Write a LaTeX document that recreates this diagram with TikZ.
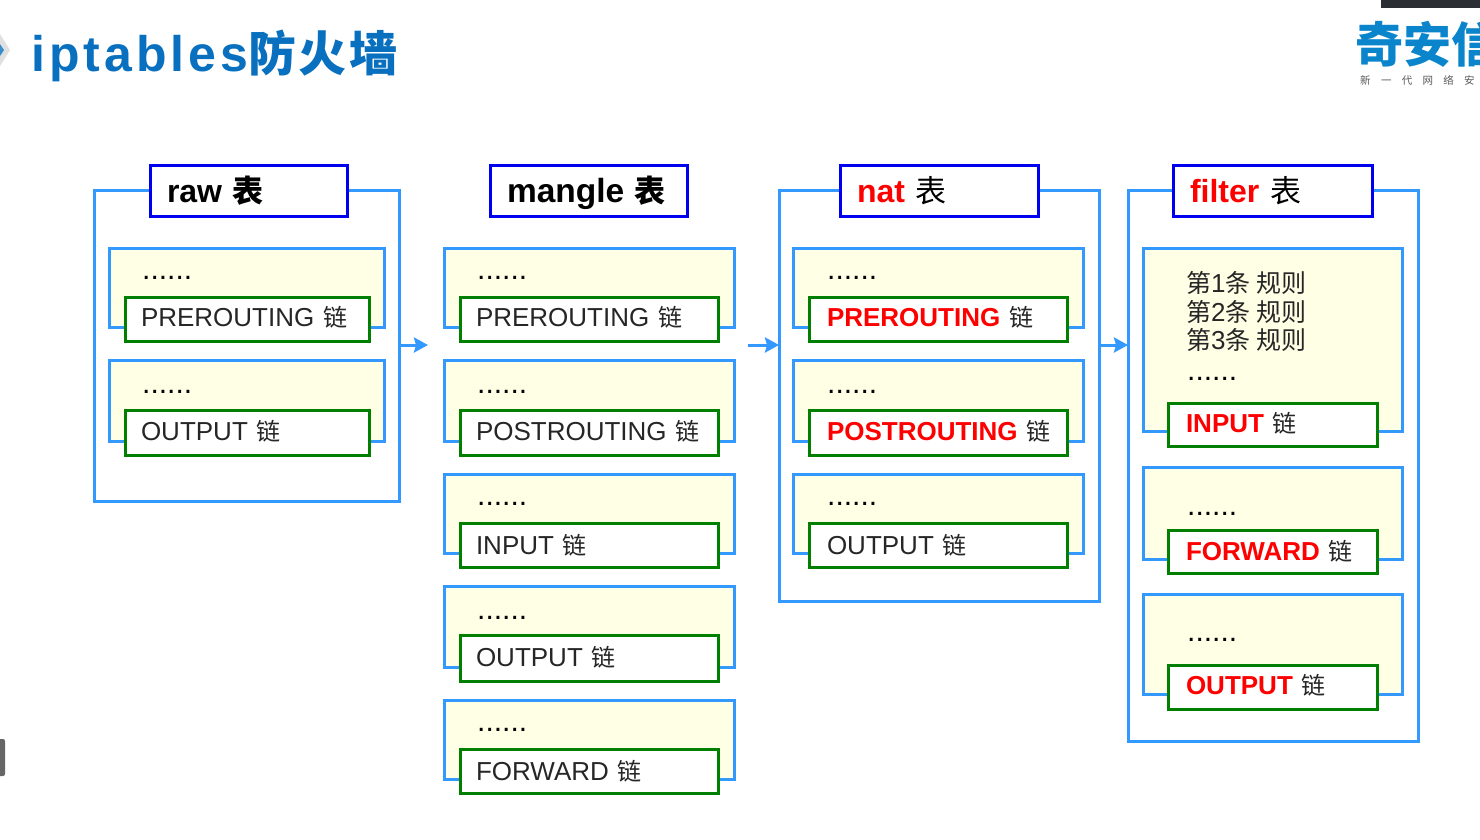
\documentclass[tikz,border=0pt]{standalone}
\usepackage{fontspec}
\usetikzlibrary{arrows.meta}
\setmainfont{Liberation Sans}
\newfontfamily\cjk{Noto Sans CJK SC}
\newfontfamily\spaced[LetterSpace=8]{Liberation Sans}
\newfontfamily\cjkspaced[LetterSpace=6]{Noto Sans CJK SC}
\definecolor{frameblue}{HTML}{3399FF}
\definecolor{paneyellow}{HTML}{FFFFE6}
\definecolor{chaingreen}{HTML}{007F00}
\definecolor{headblue}{HTML}{0000F0}
\definecolor{brandblue}{HTML}{0870BE}
\definecolor{logoblue}{HTML}{0A85CC}
\definecolor{alertred}{HTML}{FF0000}
\definecolor{barblack}{HTML}{2B2E32}
\newcommand{\zh}[1]{{\cjk\fontsize{24}{28}\selectfont #1}}
\newcommand{\zhr}[1]{{\cjk\fontsize{25}{28}\selectfont #1}}
\newcommand{\zhb}[1]{{\cjk\fontsize{31}{34}\selectfont #1}}
\newcommand{\zhm}[1]{{\cjk\mdseries\fontsize{31}{34}\selectfont #1}}
\newcommand{\redt}[1]{{\bfseries\color{alertred}#1}}
\newcommand{\nudge}{\hspace*{2pt}}
\newcommand{\dn}[2]{\raisebox{-#1pt}{#2}}
\tikzset{
  frm/.style={draw=frameblue,line width=3pt,fill=none,inner sep=0pt,outer sep=0pt},
  pane/.style={draw=frameblue,line width=3pt,fill=paneyellow,inner sep=0pt,outer sep=0pt},
  chainbox/.style={draw=chaingreen,line width=3pt,fill=white,inner ysep=0pt,inner xsep=16pt,outer sep=0pt,align=left,
    font=\fontsize{26}{30}\selectfont,text height=19pt,text depth=4pt,text=black!85},
  headbox/.style={draw=headblue,line width=3pt,fill=white,inner ysep=0pt,inner xsep=17pt,outer sep=0pt,align=left,
    font=\bfseries\fontsize{32}{36}\selectfont,text height=25pt,text depth=2pt},
  dotstext/.style={anchor=base west,inner sep=0pt,font=\fontsize{30}{32}\selectfont},
  flow/.style={draw=frameblue,line width=3pt,-{Stealth[length=14pt,width=15pt,inset=2pt]}}
}
% name x1 y1 x2 y2 : boxes are given by the outer pixels seen in the reference
\newcommand{\frmbox}[5]{\node[frm,minimum width={(#4-#2-1)*1pt},minimum height={(#5-#3-1)*1pt}] (#1) at ({(#2+#4-1)/2},{(#3+#5-1)/2}) {};}
\newcommand{\pnl}[5]{\node[pane,minimum width={(#4-#2-1)*1pt},minimum height={(#5-#3-1)*1pt}] (#1) at ({(#2+#4-1)/2},{(#3+#5-1)/2}) {};}
\newcommand{\chn}[6]{\node[chainbox,text width={(#4-#2-33)*1pt},minimum height={(#5-#3-1)*1pt}] (#1) at ({(#2+#4-1)/2},{(#3+#5-1)/2}) {#6};}
\newcommand{\hd}[6]{\node[headbox,text width={(#4-#2-35)*1pt},minimum height={(#5-#3-1)*1pt}] (#1) at ({(#2+#4-1)/2},{(#3+#5-1)/2}) {#6};}
\newcommand{\dts}[3]{\node[dotstext] (#1) at (#2,#3) {......};}
\begin{document}
\begin{tikzpicture}[x=1pt,y=-1pt]
\useasboundingbox (0,0) rectangle (1480,839);
\clip (0,0) rectangle (1480,839);
% slide furniture
\fill[black!12] (-8,50) -- (0,34) -- (10,50) -- (0,66) -- cycle;
\fill[brandblue!80] (-4,50) -- (0,44) -- (4,50) -- (0,56) -- cycle;
\node[anchor=base west,inner sep=0pt,text=brandblue] (title) at (31,71)
  {\bfseries\spaced\fontsize{50}{54}\selectfont iptables{\cjkspaced\fontsize{48}{54}\selectfont 防火墙}};
\fill[barblack] (1381,0) rectangle (1480,8);
\fill[black!60,rounded corners=2pt] (-5,739) rectangle (5,776);
\node[anchor=base west,inner sep=0pt,text=logoblue] (logo) at (1355,62)
  {\cjk\bfseries\fontsize{48}{52}\selectfont 奇安信};
\node[anchor=base west,inner sep=0pt,text=black!65] (logosub) at (1360,84)
  {\cjk\fontsize{10.5}{12}\selectfont 新\hspace{10.3pt}一\hspace{10.3pt}代\hspace{10.3pt}网\hspace{10.3pt}络\hspace{10.3pt}安};

% raw
\frmbox{raw}{94}{190}{400}{502}
\pnl{rawa}{109}{248}{385}{328}
\dts{rawad}{142}{279}
\chn{rawac}{125}{297}{370}{342}{PREROUTING \zh{链}}
\pnl{rawb}{109}{360}{385}{442}
\dts{rawbd}{142}{393}
\chn{rawbc}{125}{410}{370}{456}{OUTPUT \zh{链}}
\hd{rawh}{150}{165}{348}{217}{raw \zhb{表}}

% mangle
\pnl{ma}{444}{248}{735}{328}
\dts{mad}{477}{279}
\chn{mac}{460}{297}{719}{342}{PREROUTING \zh{链}}
\pnl{mb}{444}{360}{735}{442}
\dts{mbd}{477}{393}
\chn{mbc}{460}{410}{719}{456}{POSTROUTING \zh{链}}
\pnl{mc}{444}{474}{735}{554}
\dts{mcd}{477}{505}
\chn{mcc}{460}{523}{719}{568}{\dn{2}{INPUT \zh{链}}}
\pnl{md}{444}{586}{735}{668}
\dts{mdd}{477}{619}
\chn{mdc}{460}{635}{719}{682}{\dn{1}{OUTPUT \zh{链}}}
\pnl{me}{444}{700}{735}{780}
\dts{med}{477}{731}
\chn{mec}{460}{749}{719}{794}{\dn{2}{FORWARD \zh{链}}}
\hd{mh}{490}{165}{688}{217}{{\fontsize{33.5}{36}\selectfont mangle} \zhb{表}}

% nat
\frmbox{nat}{779}{190}{1100}{602}
\pnl{na}{793}{248}{1084}{328}
\dts{nad}{827}{279}
\chn{nac}{809}{297}{1068}{342}{\nudge\redt{PREROUTING} \zh{链}}
\pnl{nb}{793}{360}{1084}{442}
\dts{nbd}{827}{393}
\chn{nbc}{809}{410}{1068}{456}{\nudge\redt{POSTROUTING} \zh{链}}
\pnl{nc}{793}{474}{1084}{554}
\dts{ncd}{827}{505}
\chn{ncc}{809}{523}{1068}{568}{\nudge\dn{2}{OUTPUT \zh{链}}}
\hd{nh}{840}{165}{1039}{217}{{\color{alertred}nat} \zhm{表}}

% filter
\frmbox{fil}{1128}{190}{1419}{742}
\pnl{fa}{1143}{248}{1403}{432}
\node[anchor=north west,inner sep=0pt,align=left,text=black!85,font=\fontsize{26}{28.8}\selectfont] (fat) at (1186,271)
  {\zhr{第}1\zhr{条 规则}\\\zhr{第}2\zhr{条 规则}\\\zhr{第}3\zhr{条 规则}};
\dts{fad}{1187}{380}
\chn{fac}{1168}{403}{1378}{447}{\nudge\redt{INPUT} \zh{链}}
\pnl{fb}{1143}{467}{1403}{560}
\dts{fbd}{1187}{515}
\chn{fbc}{1168}{530}{1378}{574}{\nudge\dn{1}{\redt{FORWARD} \zh{链}}}
\pnl{fc}{1143}{594}{1403}{695}
\dts{fcd}{1187}{641}
\chn{fcc}{1168}{665}{1378}{710}{\nudge\redt{OUTPUT} \zh{链}}
\hd{fh}{1173}{165}{1373}{217}{{\color{alertred}filter} \zhm{表}}

% flow arrows
\coordinate (aone) at (428,345);
\coordinate (atwo) at (748,345);
\draw[flow] (raw.east |- aone) -- (aone);
\draw[flow] (atwo) -- (nat.west |- atwo);
\draw[flow] (nat.east |- atwo) -- (fil.west |- atwo);
\end{tikzpicture}
\end{document}
